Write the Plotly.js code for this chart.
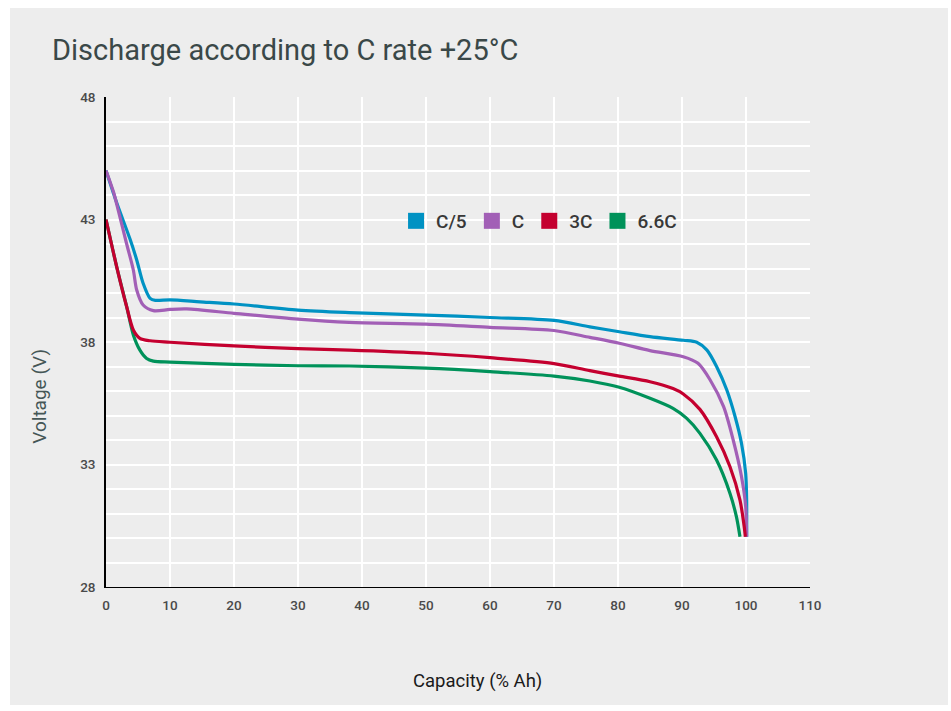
<!DOCTYPE html>
<html>
<head>
<meta charset="utf-8">
<script src="https://cdn.plot.ly/plotly-3.0.1.min.js"></script>
<style>
  html, body { margin: 0; padding: 0; background: #ffffff; width: 951px; height: 711px; overflow: hidden; }
  #plot { position: absolute; left: 10px; top: 8px; width: 938px; height: 697px; }
</style>
</head>
<body>
<div id="plot"></div>
<script>
// Series names
const seriesNames = ['C/5', 'C', '3C', '6.6C'];

// C/5
const c5X = [0, 1.7, 3.75, 4.8, 5.8, 6.9, 7.7, 10, 14.7, 20, 30, 38, 50, 60, 70, 75.6, 80.2, 85, 90.2, 92.3, 93.9, 95.4, 97.0, 98.3, 99.3, 99.95, 100.1, 100.1];
const c5Y = [45.0, 43.66, 42.2, 41.35, 40.4, 39.78, 39.7, 39.72, 39.64, 39.55, 39.3, 39.2, 39.1, 39.0, 38.88, 38.62, 38.42, 38.22, 38.07, 37.99, 37.67, 37.0, 36.04, 34.95, 33.86, 32.64, 31.55, 30.05];

// C
const c1X = [0, 1.2, 1.7, 3.2, 4.27, 4.8, 5.8, 7.4, 10, 12.6, 20, 30, 38, 50, 60, 70, 75.6, 80.2, 85, 90.2, 92.5, 94.4, 96.5, 98.0, 99.3, 99.95, 100.1];
const c1Y = [45.0, 44.1, 43.6, 42.03, 40.94, 40.12, 39.51, 39.28, 39.33, 39.35, 39.17, 38.93, 38.8, 38.73, 38.6, 38.47, 38.19, 37.95, 37.65, 37.4, 37.13, 36.45, 35.36, 34.0, 32.5, 31.28, 30.05];

// 3C
const c3X = [0, 1.67, 3.23, 4.27, 5.3, 6.9, 10, 20, 30, 38, 50, 60, 70, 75.6, 80.2, 85, 88.6, 90.2, 92.8, 95.4, 97.5, 99.06, 99.7, 99.9];
const c3Y = [43.0, 41.07, 39.44, 38.49, 38.15, 38.05, 37.99, 37.84, 37.73, 37.67, 37.54, 37.36, 37.12, 36.83, 36.61, 36.38, 36.1, 35.88, 35.25, 34.13, 32.91, 31.55, 30.5, 30.05];

// 6.6C
const c66X = [0, 1.67, 3.23, 4.27, 5.3, 6.35, 7.4, 10, 20, 30, 38, 50, 60, 70, 75.6, 80.2, 85, 88.6, 90.7, 92.8, 95.4, 97.5, 98.5, 99.06];
const c66Y = [43.0, 41.07, 39.44, 38.29, 37.67, 37.33, 37.22, 37.18, 37.09, 37.03, 37.02, 36.93, 36.79, 36.61, 36.41, 36.15, 35.7, 35.29, 34.89, 34.27, 33.18, 31.82, 30.87, 30.05];

// Axis ticks
const xTicks = [0, 10, 20, 30, 40, 50, 60, 70, 80, 90, 100, 110];
const yTicks = [28, 33, 38, 43, 48];

const colors = {'C/5': '#0092c3', 'C': '#a25fb6', '3C': '#c4002f', '6.6C': '#00925a'};
const data = {'C/5': [c5X, c5Y], 'C': [c1X, c1Y], '3C': [c3X, c3Y], '6.6C': [c66X, c66Y]};

// draw order (later on top)
const drawOrder = ['C/5', 'C', '6.6C', '3C'];
const traces = [];
drawOrder.forEach(name => {
  traces.push({
    type: 'scatter', mode: 'lines', name: name,
    x: data[name][0], y: data[name][1],
    line: {color: colors[name], width: 3.2, shape: 'spline', smoothing: 0.8},
    showlegend: false, legendgroup: name, hoverinfo: 'x+y+name'
  });
});
// legend entries (square swatches)
seriesNames.forEach((name, i) => {
  traces.push({
    type: 'scatter', mode: 'markers', name: name,
    x: [null], y: [null],
    marker: {symbol: 'square', size: 16, color: colors[name]},
    legendgroup: name, legendrank: i + 1, showlegend: true
  });
});

const layout = {
  width: 938, height: 697,
  paper_bgcolor: '#ededed', plot_bgcolor: '#ededed',
  margin: {l: 96, r: 138, t: 89, b: 118},
  font: {family: 'Roboto, sans-serif'},
  title: {
    text: 'Discharge according to C rate +25°C',
    font: {family: 'Roboto, sans-serif', size: 29, color: '#3a4848', weight: 400},
    xref: 'container', x: 0.0448, xanchor: 'left',
    yref: 'container', y: 0.94, yanchor: 'middle'
  },
  xaxis: {
    range: [0, 110], tickvals: xTicks, ticktext: xTicks.map(String),
    showgrid: true, gridcolor: '#ffffff', gridwidth: 1.6,
    showline: true, linecolor: '#000000', linewidth: 1.2,
    zeroline: false, ticks: '', ticklabelstandoff: 6,
    tickfont: {family: 'Roboto, sans-serif', size: 13.5, color: '#4a4a4a', weight: 500},
    fixedrange: true
  },
  yaxis: {
    range: [28, 48], tickvals: yTicks, ticktext: yTicks.map(String),
    showgrid: true, gridcolor: '#ffffff', gridwidth: 1.6,
    minor: {dtick: 1, tick0: 28, showgrid: true, gridcolor: '#ffffff', gridwidth: 1.6},
    showline: true, linecolor: '#000000', linewidth: 1.5,
    zeroline: false, ticks: '', ticklabelstandoff: 6,
    tickfont: {family: 'Roboto, sans-serif', size: 13.5, color: '#4a4a4a', weight: 500},
    fixedrange: true
  },
  legend: {
    orientation: 'h', x: 0.412, xanchor: 'left', y: 0.747, yanchor: 'middle',
    bgcolor: 'rgba(0,0,0,0)', borderwidth: 0,
    font: {family: 'Roboto, sans-serif', size: 19, color: '#383838', weight: 500},
    itemclick: false, itemdoubleclick: false
  },
  shapes: [{
    type: 'rect', xref: 'paper', yref: 'paper', layer: 'between',
    x0: 0.358, x1: 0.81, y0: 0.708, y1: 0.794,
    fillcolor: '#ededed', line: {width: 0}
  }],
  annotations: [
    {text: 'Voltage (V)', xref: 'paper', yref: 'paper', x: -0.094, y: 0.39,
     xanchor: 'center', yanchor: 'middle', textangle: -90, showarrow: false,
     font: {family: 'Roboto, sans-serif', size: 19, color: '#455656'}},
    {text: 'Capacity (% Ah)', xref: 'paper', yref: 'paper', x: 0.527, y: -0.192,
     xanchor: 'center', yanchor: 'middle', showarrow: false,
     font: {family: 'Roboto, sans-serif', size: 18.5, color: '#1a1a1a'}}
  ],
  hovermode: 'closest'
};

Plotly.newPlot('plot', traces, layout, {displayModeBar: false});
</script>
</body>
</html>
